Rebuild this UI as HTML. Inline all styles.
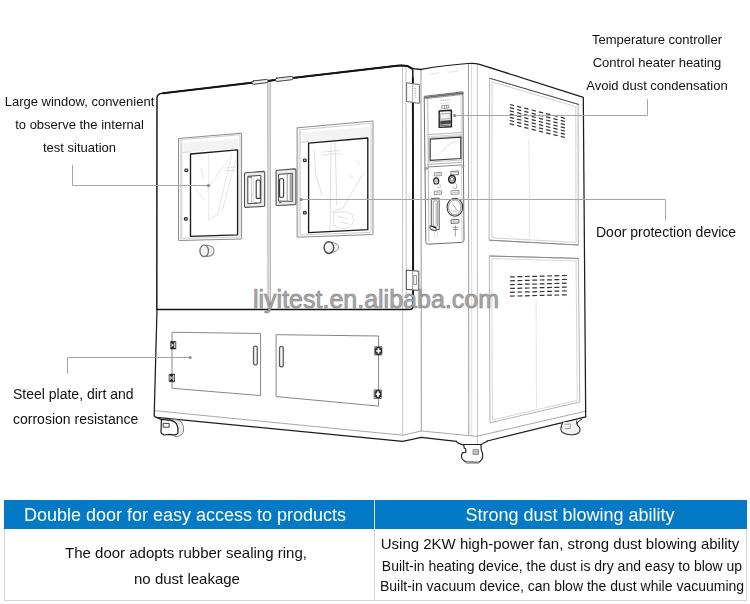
<!DOCTYPE html>
<html>
<head>
<meta charset="utf-8">
<title>Dust test chamber features</title>
<style>
html,body{margin:0;padding:0;background:#fff;}
body{width:750px;height:604px;position:relative;overflow:hidden;font-family:"Liberation Sans",Arial,sans-serif;color:#111;}
#art{position:absolute;left:0;top:0;width:750px;height:604px;}
.t{position:absolute;white-space:nowrap;line-height:1;will-change:transform;}
.c{text-align:center;}
.lbl13{font-size:13px;}
.lbl14{font-size:14px;}
#wm{position:absolute;left:253px;top:287px;font-size:25px;line-height:1;color:#a8a8a8;white-space:nowrap;-webkit-text-stroke:0.5px rgba(120,120,120,.85);text-shadow:0 0 1.5px rgba(100,100,100,.5);}
#tbl{position:absolute;left:4px;top:500px;width:743px;height:101px;box-sizing:border-box;border:1px solid #d4d4d4;background:#fff;}
#tbl .hd{position:absolute;left:-1px;top:-1px;width:743px;height:29px;background:#0479c5;}
#tbl .vl{position:absolute;left:369px;top:-1px;width:1px;height:101px;background:#d4d4d4;}
#tbl .vh{position:absolute;left:369px;top:-1px;width:1px;height:29px;background:#e3e1e0;}
.h{will-change:transform;position:absolute;color:#fff;font-size:18px;line-height:1;white-space:nowrap;text-align:center;}
.b{will-change:transform;position:absolute;color:#111;line-height:1;white-space:nowrap;text-align:center;}
</style>
</head>
<body>
<svg id="art" viewBox="0 0 750 604" width="750" height="604" fill="none" stroke-linecap="round" stroke-linejoin="round">
<!-- ===== light structural lines (drawn first) ===== -->
<g stroke="#c4c4c4" stroke-width="1">
  <!-- door right thickness lines -->
  <path d="M402.5 66 L402.7 435"/>
  <path d="M406 67 L406.3 309"/>
  <!-- panel / side verticals -->
  <path d="M477.3 64 L477.4 443"/>
  <path d="M471.5 63.8 L471.8 435.8" stroke="#dadada"/>
</g>
<g stroke="#9a9a9a" stroke-width="1">
  <path d="M421 69.5 L421.3 431"/>
  <path d="M468.5 64 L468.8 435.4"/>
</g>
<!-- base upper (lighter) edge line -->
<path d="M155 410.7 L402.7 435.2 L421.3 431 L476.6 436.3 L585.7 411.2" stroke="#a8a8a8" stroke-width="1"/>

<!-- side panels -->
<g stroke="#b4b4b4" stroke-width="1">
  <path d="M490 78.3 L578.1 104.3 L578.3 245 L489.5 240.2 Z"/>
  <path d="M492.5 82 L575.8 106.6 L576 242.4 L492.2 237.8 Z" stroke="#d2d2d2"/>
  <path d="M489.7 256 L578.3 258.4 L579.8 402 L490.3 422.7 Z"/>
  <path d="M492.2 258.6 L576 260.9 L577.3 400.4 L492.8 419.8 Z" stroke="#d8d8d8"/>
  <!-- faint inner verticals -->
  <path d="M529 140 L529.5 236" stroke="#e6e6e6"/>
  <path d="M536 300 L536.5 408" stroke="#e6e6e6"/>
</g>

<path d="M490 78.3 L578.6 104.4" stroke="#505050" stroke-width="1"/>
<path d="M489.7 240.2 L578.3 245" stroke="#8a8a8a" stroke-width="1"/>
<path d="M489.7 256 L578.3 258.4" stroke="#8a8a8a" stroke-width="1"/>
<!-- vents -->
<g stroke="#333" stroke-width="1.2" stroke-linecap="butt" id="vents">
<path d="M509.8 104.5 L514.0 105.6"/>
<path d="M509.8 107.7 L514.0 108.8"/>
<path d="M509.8 110.9 L514.0 112.0"/>
<path d="M509.8 114.1 L514.0 115.2"/>
<path d="M509.8 117.3 L514.0 118.4"/>
<path d="M509.8 120.5 L514.0 121.6"/>
<path d="M509.8 123.7 L514.0 124.8"/>
<path d="M517.1 106.3 L521.3 107.4"/>
<path d="M517.1 109.5 L521.3 110.6"/>
<path d="M517.1 112.7 L521.3 113.8"/>
<path d="M517.1 115.9 L521.3 117.0"/>
<path d="M517.1 119.1 L521.3 120.2"/>
<path d="M517.1 122.3 L521.3 123.4"/>
<path d="M517.1 125.5 L521.3 126.6"/>
<path d="M524.3 108.1 L528.5 109.2"/>
<path d="M524.3 111.3 L528.5 112.4"/>
<path d="M524.3 114.5 L528.5 115.6"/>
<path d="M524.3 117.7 L528.5 118.8"/>
<path d="M524.3 120.9 L528.5 122.0"/>
<path d="M524.3 124.1 L528.5 125.2"/>
<path d="M524.3 127.3 L528.5 128.4"/>
<path d="M531.6 110.0 L535.8 111.1"/>
<path d="M531.6 113.2 L535.8 114.3"/>
<path d="M531.6 116.4 L535.8 117.5"/>
<path d="M531.6 119.6 L535.8 120.7"/>
<path d="M531.6 122.8 L535.8 123.9"/>
<path d="M531.6 126.0 L535.8 127.1"/>
<path d="M531.6 129.2 L535.8 130.3"/>
<path d="M538.9 111.8 L543.1 112.9"/>
<path d="M538.9 115.0 L543.1 116.1"/>
<path d="M538.9 118.2 L543.1 119.3"/>
<path d="M538.9 121.4 L543.1 122.5"/>
<path d="M538.9 124.6 L543.1 125.7"/>
<path d="M538.9 127.8 L543.1 128.9"/>
<path d="M538.9 131.0 L543.1 132.1"/>
<path d="M546.1 113.6 L550.4 114.7"/>
<path d="M546.1 116.8 L550.4 117.9"/>
<path d="M546.1 120.0 L550.4 121.1"/>
<path d="M546.1 123.2 L550.4 124.3"/>
<path d="M546.1 126.4 L550.4 127.5"/>
<path d="M546.1 129.6 L550.4 130.7"/>
<path d="M546.1 132.8 L550.4 133.9"/>
<path d="M553.4 115.4 L557.6 116.5"/>
<path d="M553.4 118.6 L557.6 119.7"/>
<path d="M553.4 121.8 L557.6 122.9"/>
<path d="M553.4 125.0 L557.6 126.1"/>
<path d="M553.4 128.2 L557.6 129.3"/>
<path d="M553.4 131.4 L557.6 132.5"/>
<path d="M553.4 134.6 L557.6 135.7"/>
<path d="M560.7 117.2 L564.9 118.3"/>
<path d="M560.7 120.4 L564.9 121.5"/>
<path d="M560.7 123.6 L564.9 124.7"/>
<path d="M560.7 126.8 L564.9 127.9"/>
<path d="M560.7 130.0 L564.9 131.1"/>
<path d="M560.7 133.2 L564.9 134.3"/>
<path d="M560.7 136.4 L564.9 137.5"/>
<path d="M510.1 276.9 L514.9 276.8"/>
<path d="M510.1 280.8 L514.9 280.6"/>
<path d="M510.1 284.6 L514.9 284.5"/>
<path d="M510.1 288.4 L514.9 288.3"/>
<path d="M510.1 292.3 L514.9 292.2"/>
<path d="M510.1 296.1 L514.9 296.0"/>
<path d="M517.5 276.7 L522.3 276.6"/>
<path d="M517.5 280.6 L522.3 280.5"/>
<path d="M517.5 284.4 L522.3 284.3"/>
<path d="M517.5 288.3 L522.3 288.2"/>
<path d="M517.5 292.1 L522.3 292.0"/>
<path d="M517.5 296.0 L522.3 295.9"/>
<path d="M524.9 276.5 L529.7 276.4"/>
<path d="M524.9 280.4 L529.7 280.3"/>
<path d="M524.9 284.2 L529.7 284.1"/>
<path d="M524.9 288.1 L529.7 288.0"/>
<path d="M524.9 291.9 L529.7 291.8"/>
<path d="M524.9 295.8 L529.7 295.7"/>
<path d="M532.3 276.4 L537.1 276.3"/>
<path d="M532.3 280.2 L537.1 280.1"/>
<path d="M532.3 284.1 L537.1 284.0"/>
<path d="M532.3 287.9 L537.1 287.8"/>
<path d="M532.3 291.8 L537.1 291.7"/>
<path d="M532.3 295.6 L537.1 295.5"/>
<path d="M539.7 276.2 L544.5 276.1"/>
<path d="M539.7 280.0 L544.5 279.9"/>
<path d="M539.7 283.9 L544.5 283.8"/>
<path d="M539.7 287.7 L544.5 287.6"/>
<path d="M539.7 291.6 L544.5 291.5"/>
<path d="M539.7 295.4 L544.5 295.3"/>
<path d="M547.1 276.0 L551.9 275.9"/>
<path d="M547.1 279.9 L551.9 279.8"/>
<path d="M547.1 283.7 L551.9 283.6"/>
<path d="M547.1 287.6 L551.9 287.4"/>
<path d="M547.1 291.4 L551.9 291.3"/>
<path d="M547.1 295.2 L551.9 295.1"/>
<path d="M554.5 275.8 L559.3 275.7"/>
<path d="M554.5 279.7 L559.3 279.6"/>
<path d="M554.5 283.5 L559.3 283.4"/>
<path d="M554.5 287.4 L559.3 287.3"/>
<path d="M554.5 291.2 L559.3 291.1"/>
<path d="M554.5 295.1 L559.3 295.0"/>
<path d="M561.9 275.6 L566.7 275.5"/>
<path d="M561.9 279.5 L566.7 279.4"/>
<path d="M561.9 283.3 L566.7 283.2"/>
<path d="M561.9 287.2 L566.7 287.1"/>
<path d="M561.9 291.0 L566.7 290.9"/>
<path d="M561.9 294.9 L566.7 294.8"/>
</g>

<!-- ===== door divider ===== -->
<path d="M267.7 81.6 L267.9 309 L270.5 309 L270.3 81.3 Z" fill="#e2e2e2" stroke="#a6a6a6" stroke-width="0.8"/>

<!-- latch plates on top (drawn after main outline) -->
<!-- ===== main door outline (dark) ===== -->
<path d="M156.8 309.4 L157 98 Q157 94 161.5 93.4 L397 65.7 Q403 65.1 407.4 66 L412.4 68.8 Q412.8 69.6 412.8 72 L413.2 305.9 Q413.2 309.4 409.5 309.4 L156.8 309.4" stroke="#141414" stroke-width="1.45"/>

<path d="M412.8 78 L413.1 304" stroke="#141414" stroke-width="1.8"/>
<path d="M412.4 68.6 L421 69.5" stroke="#1c1c1c" stroke-width="1.3"/>
<!-- panel top + right top edge + right side -->
<path d="M421 69.3 Q446 65 468 63.5 Q475 62.9 479.5 64.3 L583.3 97.3 L585.7 416.8" stroke="#1c1c1c" stroke-width="1.25"/>

<!-- base left edge + bottom edge -->
<path d="M157 309 L154.2 415 Q154.2 417 156.4 417.3 L402.7 441.4 L421.3 437.3 L456.4 441.3 M487.3 441 L585.7 416.8" stroke="#1c1c1c" stroke-width="1.25"/>

<path d="M163 93.2 L397 65.7 Q403 65.1 407.4 66 L412.2 68.6" stroke="#141414" stroke-width="1.9"/>
<!-- latch plates -->
<path d="M253.4 80.9 L266.6 79.4 Q268.3 79.6 268.2 81 Q268.2 82.4 266.8 82.7 L253.6 84.3 Q252 84.2 252 82.8 Q252 81.2 253.4 80.9 Z" fill="#ededed" stroke="#2a2a2a" stroke-width="0.9"/>
<path d="M276.8 78.1 L291.6 76.4 Q293.3 76.6 293.2 78 Q293.2 79.4 291.8 79.7 L277 81.5 Q275.4 81.4 275.4 80 Q275.4 78.4 276.8 78.1 Z" fill="#ededed" stroke="#2a2a2a" stroke-width="0.9"/>

<!-- ===== left window ===== -->
<g>
  <path d="M178.9 138.4 L241.6 133.2 L241.6 239 L178.9 240.5 Z" stroke="#8c8c8c" stroke-width="1"/>
  <path d="M183.6 143 L238.4 138.4 L238.4 148.6 L183.6 152.6 Z" fill="#f3f3f3" stroke="none"/>
  <path d="M182.2 139.6 L240 134.8 L240 237 L182.2 238.4 Z" stroke="#c2c2c2" stroke-width="0.8"/>
  <path d="M180.4 139.2 L180.4 240" stroke="#cfcfcf" stroke-width="0.8"/>
  <path d="M183 152.6 L190.5 152" stroke="#cfcfcf" stroke-width="0.8"/>
  <!-- faint interior -->
  <g stroke="#dedede" stroke-width="0.8">
    <path d="M208.8 154 L208.8 220"/>
    <path d="M232 153 L218 214 L208.8 220"/>
    <path d="M235.5 160 L222 212"/>
    <path d="M225 168 L236 167 M225 171 L236 170"/>
    <path d="M201 168 L203 178 M196 190 L204 200"/>
    <path d="M208.8 187 L228 160"/>
  </g>
  <path d="M190.5 154 L237.6 149.9 L237.6 234.8 L190.5 236.3 Z" stroke="#1a1a1a" stroke-width="1.35"/>
  <rect x="185.3" y="169.1" width="2.4" height="2.4" fill="#bbb" stroke="#222" stroke-width="1"/>
  <rect x="184.8" y="217.7" width="2.4" height="2.4" fill="#bbb" stroke="#222" stroke-width="1"/>
</g>
<!-- ===== right window ===== -->
<g>
  <path d="M297.5 127.8 L373 121 L373 234.5 L297.5 237.2 Z" stroke="#8c8c8c" stroke-width="1"/>
  <path d="M302.6 132.6 L369.4 126.8 L369.4 136.8 L302.6 142.4 Z" fill="#f3f3f3" stroke="none"/>
  <path d="M300.6 129.6 L371 123.4 L371 232.4 L300.6 235 Z" stroke="#c2c2c2" stroke-width="0.8"/>
  <path d="M299 128.4 L299 236.8" stroke="#cfcfcf" stroke-width="0.8"/>
  <path d="M301 142.2 L308.5 141.6" stroke="#cfcfcf" stroke-width="0.8"/>
  <g stroke="#d8d8d8" stroke-width="0.8">
    <path d="M331 143 L330 231"/>
    <path d="M335 143 L337 205"/>
    <path d="M322 152 L340 150.5 M322 155 L340 153.5"/>
    <path d="M364 172 L343 208 L332 212"/>
    <path d="M314 150 L316 175 L322 195"/>
    <path d="M334 213 Q345 210 352 214 Q356 222 349 228 Q340 230 334 225 Z"/>
    <path d="M338 216 L347 219 M340 222 L349 224"/>
    <path d="M356 160 L360 164 M350 175 L353 178"/>
  </g>
  <path d="M308.6 143.2 L367.8 138 L367.8 229.7 L308.6 232.6 Z" stroke="#1a1a1a" stroke-width="1.35"/>
  <rect x="303.8" y="159.1" width="2.4" height="2.4" fill="#bbb" stroke="#222" stroke-width="1"/>
  <rect x="303.8" y="211.6" width="2.4" height="2.4" fill="#bbb" stroke="#222" stroke-width="1"/>
</g>

<!-- ===== handles ===== -->
<g>
  <path d="M245.6 172.8 L263.6 171.4 Q264.7 171.4 264.7 172.6 L264.7 205.2 Q264.7 206.3 263.6 206.4 L245.6 207.4 Q244.5 207.4 244.5 206.2 L244.5 174 Q244.5 172.9 245.6 172.8 Z" fill="#ececec" stroke="#505050" stroke-width="1.1"/>
  <path d="M248.2 176.3 L260.8 175.4 L260.8 202.8 L248.2 203.7 Z" fill="#fff" stroke="#484848" stroke-width="1"/>
  <path d="M251.7 177.4 L251.7 202.6" stroke="#b4b4b4" stroke-width="0.8"/>
  <path d="M253.6 177.2 L253.6 202.4" stroke="#d6d6d6" stroke-width="0.8"/>
  <rect x="256.2" y="180" width="4.1" height="18.4" rx="1" fill="#fff" stroke="#333" stroke-width="1.1"/>
  <path d="M248.8 177.2 L251.6 177" stroke="#444" stroke-width="1"/>
  <path d="M254.2 203.4 L256.4 203.2" stroke="#666" stroke-width="1.4"/>
</g>
<g>
  <path d="M277.2 170.2 L294.8 168.9 Q295.9 168.9 295.9 170 L295.9 203.4 Q295.9 204.5 294.8 204.6 L277.2 205.5 Q276.1 205.5 276.1 204.4 L276.1 171.3 Q276.1 170.3 277.2 170.2 Z" fill="#ececec" stroke="#505050" stroke-width="1.1"/>
  <path d="M279 174.4 L292.6 173.3 L292.6 201.3 L279 201.1 Z" fill="#fff" stroke="#484848" stroke-width="1"/>
  <path d="M289.6 174.2 L292.4 174 L292.4 200.8 L289.6 200.6 Z" fill="#a8a8a8" stroke="none"/>
  <path d="M287.2 174.4 L287.2 200.6" stroke="#8a8a8a" stroke-width="0.9"/>
  <rect x="279.6" y="178.8" width="4" height="18.4" rx="1" fill="#fff" stroke="#333" stroke-width="1.1"/>
  <path d="M279.6 202.6 L281 202.5" stroke="#666" stroke-width="1.2"/>
</g>

<!-- ===== knobs ===== -->
<g>
  <path d="M206 245.2 Q213.8 245 214 250.8 Q213.8 256.4 206.4 256.4 Z" fill="#f0f0f0" stroke="#8a8a8a" stroke-width="1.1"/>
  <ellipse cx="204.2" cy="250.9" rx="4.3" ry="5.8" fill="#f2f2f2" stroke="#777" stroke-width="1.3"/>
  <path d="M331 242.6 Q336.6 242.4 338.6 246.4 Q339.2 249.4 336.6 250.6 L332 252.8 Z" fill="#f0f0f0" stroke="#909090" stroke-width="1"/>
  <ellipse cx="328.9" cy="247.6" rx="4.8" ry="5.9" fill="#f4f4f4" stroke="#484848" stroke-width="1.35"/>
</g>

<!-- ===== lower cabinet doors ===== -->
<g stroke="#868686" stroke-width="1">
  <path d="M172.4 332.3 L260.6 333.5 L260.6 395.6 L172.4 388.3 Z"/>
  <path d="M276.5 334.7 L378.6 336 L378.6 406.1 L276.5 396.6 Z"/>
</g>
<!-- pill handles -->
<g stroke="#5c5c5c" stroke-width="1.25" fill="#f2f2f2">
  <rect x="253.5" y="346" width="3.8" height="19" rx="1.9"/>
  <rect x="279.5" y="346.4" width="3.8" height="20.4" rx="1.9"/>
</g>
<!-- hinges on cabinet doors -->
<g>
<rect x="170.9" y="341.4" width="5" height="7.6" fill="#262626" stroke="#262626" stroke-width="0.6"/><path d="M171.9 343.7 L173.2 345.2 L171.9 346.7 Z M174.9 342.6 L173.8 344.6 L174.9 344.8 Z M174.9 347.8 L173.8 345.8 L174.9 345.8 Z" fill="#fff" stroke="#fff" stroke-width="0.5"/>
<rect x="169.5" y="374.1" width="5" height="7.6" fill="#262626" stroke="#262626" stroke-width="0.6"/><path d="M170.5 376.4 L171.8 377.9 L170.5 379.4 Z M173.5 375.3 L172.4 377.3 L173.5 377.5 Z M173.5 380.5 L172.4 378.5 L173.5 378.5 Z" fill="#fff" stroke="#fff" stroke-width="0.5"/>
<rect x="375" y="346.8" width="7" height="8.2" fill="#2c2c2c" stroke="#2c2c2c" stroke-width="0.6"/><path d="M378.5 348.2 V353.6 M376.3 350.9 H380.7" stroke="#fff" stroke-width="1.7" stroke-linecap="butt"/><path d="M375.2 347.7 h1.1 M380.7 347.7 h1.1 M375.2 354.1 h1.1 M380.7 354.1 h1.1" stroke="#fff" stroke-width="0.9" stroke-linecap="butt"/>
<rect x="374.5" y="389.9" width="6.8" height="8.4" fill="#2c2c2c" stroke="#2c2c2c" stroke-width="0.6"/><path d="M377.9 391.3 V396.9 M375.8 394.1 H380.0" stroke="#fff" stroke-width="1.7" stroke-linecap="butt"/><path d="M374.7 390.8 h1.1 M380.0 390.8 h1.1 M374.7 397.4 h1.1 M380.0 397.4 h1.1" stroke="#fff" stroke-width="0.9" stroke-linecap="butt"/>
</g>

<!-- ===== door hinges ===== -->
<g>
  <path d="M407 82.8 L419.4 84.6 L419.4 103.4 L407 101.6 Z" fill="#fff" stroke="#6a6a6a" stroke-width="1"/>
  <path d="M412.6 84 L412.6 102.4" stroke="#9a9a9a" stroke-width="0.8"/>
  <path d="M415.4 88 L415.4 99" stroke="#b0b0b0" stroke-width="1.6" stroke-dasharray="1 1.2" stroke-linecap="butt"/>
  <path d="M406.7 270.2 L418.8 271.2 L418.8 290.4 L406.7 289.4 Z" fill="#fff" stroke="#4a4a4a" stroke-width="1"/>
  <path d="M412.6 271 L412.6 290" stroke="#8a8a8a" stroke-width="0.8"/>
  <rect x="414.2" y="275.5" width="2.4" height="9" stroke="#777" stroke-width="0.8"/>
</g>

<!-- ===== control panel ===== -->
<g>
  <!-- top faint labels -->
  <path d="M430 74.2 L438 73.2 M449 72 L458 71" stroke="#e9e9e9" stroke-width="1.6"/>
  <!-- recess outer -->
  <path d="M424.6 96.3 L462.9 91.8 L464 240 Q464 242.2 461.6 242.4 L428.2 244.2 Q425.8 244.3 425.8 242 Z" stroke="#6e6e6e" stroke-width="1"/>
  <path d="M425 97.5 L462.6 93.1" stroke="#6a6a6a" stroke-width="1.7"/>
  <path d="M424.6 98.8 L462.9 94.4" stroke="#8a8a8a" stroke-width="0.9"/>
  <path d="M427.7 99.6 L428.9 241.4" stroke="#a8a8a8" stroke-width="0.8"/>
  <path d="M461 95.2 L462 240" stroke="#c8c8c8" stroke-width="0.8"/>
  <!-- tiny text marks above controller -->
  <g stroke="#9c9c9c" stroke-width="0.8" stroke-linecap="butt">
    <path d="M440.6 100.6 L450.4 99.8" stroke-dasharray="1.4 0.8"/>
    <path d="M440.2 103.4 L450.8 102.6" stroke-dasharray="1 0.7" stroke="#c0c0c0"/>
  </g>
  <path d="M442.2 105.6 L448.8 105.2 L448.8 108 L442.2 108.4 Z" stroke="#777" stroke-width="0.7"/>
  <path d="M444.4 105.6 V108.2 M446.6 105.4 V108" stroke="#777" stroke-width="0.6"/>
  <!-- controller -->
  <path d="M439.2 111 L451.4 110.2 L451.4 126.8 L439.2 127.4 Z" fill="#f2f2f2" stroke="#1e1e1e" stroke-width="1.4"/>
  <path d="M440.6 114 L450.2 113.3 L450.2 118.6 L440.6 119.2 Z" stroke="#8a8a8a" stroke-width="0.7"/>
  <path d="M440.4 121.2 L450.4 120.6 L450.4 123.6 L440.4 124.2 Z" fill="#4a4a4a" stroke="#222" stroke-width="0.6"/>
  <path d="M440.6 125.6 L450.2 125.2" stroke="#555" stroke-width="0.9"/>
  <!-- dividers above screen -->
  <path d="M427.7 134.6 L461 132.6" stroke="#a6a6a6" stroke-width="0.8"/>
  <path d="M427.7 136.6 L461 134.6" stroke="#c8c8c8" stroke-width="0.8"/>
  <!-- screen -->
  <path d="M429 138 L462 135.8 L462 160 L429 162 Z" stroke="#b4b4b4" stroke-width="0.8"/>
  <path d="M430.2 139.2 L460.8 137.1 L460.8 158.5 L430.2 160.4 Z" fill="#fff" stroke="#3c3c3c" stroke-width="1.2"/>
  <path d="M441 152 Q447 144 456 141.6" stroke="#dadada" stroke-width="0.8"/>
  <!-- dividers below screen -->
  <path d="M427.7 164.4 L461 162.4" stroke="#9a9a9a" stroke-width="0.8"/>
  <path d="M427.7 167 L461 165" stroke="#7a7a7a" stroke-width="0.9"/>
  <circle cx="426.2" cy="168.6" r="1.1" stroke="#777" stroke-width="0.7"/>
  <circle cx="463" cy="166.4" r="1.1" stroke="#999" stroke-width="0.7"/>
  <!-- label plates -->
  <g stroke="#7c7c7c" stroke-width="0.8">
    <path d="M434.6 172.8 L441.4 172.4 L441.4 175.6 L434.6 176 Z"/>
    <path d="M451.3 171.4 L458.4 171 L458.4 174.6 L451.3 175 Z" stroke="#555"/>
    <path d="M434.6 191.2 L441.6 190.8 L441.6 194.2 L434.6 194.6 Z"/>
    <path d="M451.5 190.8 L459 190.4 L459 194 L451.5 194.4 Z"/>
    <path d="M451.4 219.8 L458.8 219.4 L458.8 223 L451.4 223.4 Z" stroke="#444"/>
    <path d="M436 174.2 L440 174 M452.8 172.8 L457 172.6 M436 192.8 L440.2 192.6 M453 192.4 L457.6 192.2 M452.8 221.4 L457.4 221.2" stroke="#aaa"/>
  </g>
  <!-- left switch -->
  <path d="M438 182.6 Q441 183.8 440.4 187.2 Q438.6 188.8 436.8 187.2" stroke="#b4b4b4" stroke-width="0.8"/>
  <ellipse cx="436.2" cy="180.9" rx="2.5" ry="3.1" fill="#fff" stroke="#2a2a2a" stroke-width="1.2"/>
  <ellipse cx="436.2" cy="180.9" rx="1" ry="1.4" stroke="#888" stroke-width="0.7"/>
  <!-- right switch -->
  <path d="M454.6 182 Q458 184.4 456.6 188.2 Q454 189.8 452.6 187.4" stroke="#a8a8a8" stroke-width="0.9"/>
  <ellipse cx="452" cy="179.2" rx="3.3" ry="3.8" fill="#fff" stroke="#1e1e1e" stroke-width="1.5"/>
  <ellipse cx="452" cy="179.2" rx="1.6" ry="2" stroke="#555" stroke-width="0.9"/>
  <!-- flow meter -->
  <path d="M431.7 198.5 L439.2 198.1 L439.2 229.6 L431.7 230 Z" stroke="#555" stroke-width="1"/>
  <path d="M433.6 201 L437.4 200.8 L437.4 226 L433.6 226.2 Z" stroke="#8a8a8a" stroke-width="0.8"/>
  <path d="M436.2 203 V224" stroke="#bbb" stroke-width="1.2"/>
  <path d="M430.4 225.8 L436 227.8 L436 231 L430.4 229 Z" fill="#fff" stroke="#3a3a3a" stroke-width="0.9"/>
  <path d="M432 226.4 L436 227.8" stroke="#222" stroke-width="1.2"/>
  <path d="M434.6 231.6 V238 M437.6 231.4 V237" stroke="#cfcfcf" stroke-width="0.8"/>
  <!-- gauge -->
  <ellipse cx="454.9" cy="207.3" rx="7.8" ry="9" fill="#fff" stroke="#3a3a3a" stroke-width="1.1"/>
  <ellipse cx="454.9" cy="207.3" rx="6.3" ry="7.4" stroke="#8a8a8a" stroke-width="0.9"/>
  <path d="M452.4 203.6 L457.4 211" stroke="#9a9a9a" stroke-width="0.8"/>
  <path d="M451 210.6 Q454.8 213.8 458.6 210.4" stroke="#c4c4c4" stroke-width="0.7"/>
  <!-- valve -->
  <path d="M453 227.6 L457.8 227.2 M455.4 225.6 V236" stroke="#8a8a8a" stroke-width="0.8"/>
  <path d="M453.6 229.6 L457.2 229.4" stroke="#777" stroke-width="0.8"/>
</g>

<!-- ===== casters ===== -->
<g>
  <!-- left caster -->
  <path d="M168 419.6 Q176 418.6 181 421.6 Q185 426 183.4 432 Q181 437 175 436.6 Z" fill="#ececec" stroke="#8a8a8a" stroke-width="1"/>
  <path d="M161.4 419.4 L161 432.6 Q161 434 163 434.2 L164 435 L170 434.4 Q176 436 178 433 Q178.6 428 176.6 424 Q174 420.4 168 420.2 Z" fill="#fff" stroke="#1e1e1e" stroke-width="1.2"/>
  <rect x="163.6" y="423.4" width="5.6" height="3.8" stroke="#2a2a2a" stroke-width="0.9"/>
  <path d="M156 417.2 L161.4 419.6" stroke="#1e1e1e" stroke-width="1.2"/>
  <!-- front right foot -->
  <path d="M456.4 441.3 L457.5 442.9 L459.7 443.6 L461.2 444.6 L481.3 444.6 L482.8 443.6 L486.5 441.8 L487.3 441" stroke="#1e1e1e" stroke-width="1.15"/>
  <path d="M463.8 445.1 L464.2 448.1 L465.6 448.8 L466 452.2 L462.3 452.9 Q461.3 455 461.5 456.6 Q461.6 459.4 463.8 460.6 L465.6 461.8 L479.1 462.2 L480.6 460.8 Q482.9 458.6 482.8 456.4 Q482.8 452.6 481.3 450.3 L480.9 445.1" fill="#fff" stroke="#1e1e1e" stroke-width="1.15"/>
  <path d="M466 463.2 L478.7 463.2" stroke="#9a9a9a" stroke-width="1.2"/>
  <rect x="473.5" y="449.6" width="4.8" height="4.8" fill="#dcdcdc" stroke="#707070" stroke-width="0.8"/>
  <path d="M473.5 451.4 H478.3 M473.5 453 H478.3" stroke="#8a8a8a" stroke-width="0.5"/>
  <!-- right rear foot -->
  <path d="M562.6 422.4 Q560 428 561.6 431.6 Q566 435.4 574 434.6 Q580 433.6 580 430 Q580 427 577.6 425.6 L576.6 421" fill="#f1f1f1" stroke="#2a2a2a" stroke-width="1.1"/>
  <path d="M565 424.4 L570.4 424 L570.4 428.4 L565 428.8" stroke="#9a9a9a" stroke-width="0.9"/>
  <path d="M576.4 424 L578.6 421.4 L581.6 419.4" stroke="#2a2a2a" stroke-width="1"/>
</g>

<!-- ===== callout lines ===== -->
<g stroke="#a6a6a6" stroke-width="1" stroke-linecap="butt" stroke-linejoin="miter">
  <path d="M72.5 165 L72.5 185.5 L208 185.5"/>
  <path d="M647.5 99 L647.5 115.5 L455 115.5"/>
  <path d="M301.5 199.5 L665.5 199.5 L665.5 220.5"/>
  <path d="M67.5 373.5 L67.5 357.5 L190 357.5"/>
</g>
<g fill="#8e8e8e" stroke="none">
  <circle cx="208.4" cy="185.6" r="1.7"/>
  <circle cx="454.6" cy="115.5" r="1.6"/>
  <circle cx="301.2" cy="199.6" r="1.6"/>
  <circle cx="190.2" cy="357.5" r="1.5"/>
</g>


</svg>

<div class="t c lbl13" style="left:0;width:159px;top:95px;">Large window, convenient</div>
<div class="t c lbl13" style="left:0;width:159px;top:118px;">to observe the internal</div>
<div class="t c lbl13" style="left:0;width:159px;top:141px;">test situation</div>

<div class="t c lbl13" style="left:557px;width:200px;top:33px;">Temperature controller</div>
<div class="t c lbl13" style="left:557px;width:200px;top:56px;">Control heater heating</div>
<div class="t c lbl13" style="left:557px;width:200px;top:79px;">Avoid dust condensation</div>

<div class="t lbl14" style="left:596px;top:225px;">Door protection device</div>

<div class="t lbl14" style="left:13px;top:387px;">Steel plate, dirt and</div>
<div class="t lbl14" style="left:13px;top:412px;">corrosion resistance</div>

<div id="wm">liyitest.en.alibaba.com</div>

<div id="tbl">
  <div class="hd"></div>
  <div class="vl"></div>
  <div class="vh"></div>
  <div class="h" style="left:-1px;width:362px;top:5px;">Double door for easy access to products</div>
  <div class="h" style="left:380px;width:370px;top:5px;">Strong dust blowing ability</div>
  <div class="b" style="left:-1px;width:364px;top:44px;font-size:15px;">The door adopts rubber sealing ring,</div>
  <div class="b" style="left:-1px;width:366px;top:70px;font-size:15px;">no dust leakage</div>
  <div class="b" style="left:370px;width:370px;top:35px;font-size:15px;">Using 2KW high-power fan, strong dust blowing ability</div>
  <div class="b" style="left:370px;width:374px;top:58px;font-size:14px;">Built-in heating device, the dust is dry and easy to blow up</div>
  <div class="b" style="left:370px;width:374px;top:78px;font-size:14px;">Built-in vacuum device, can blow the dust while vacuuming</div>
</div>
</body>
</html>
